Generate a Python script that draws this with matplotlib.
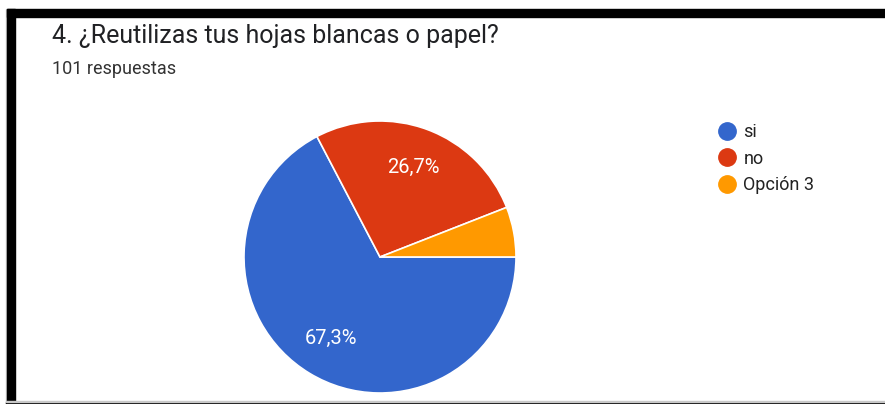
import matplotlib
matplotlib.use("Agg")
import matplotlib.pyplot as plt
from matplotlib.lines import Line2D
from matplotlib.patches import Rectangle

title = "4. ¿Reutilizas tus hojas blancas o papel?"
subtitle = "101 respuestas"
categories = ["si", "no", "Opción 3"]
counts = [68, 27, 6]
colors = ["#3366cc", "#dc3912", "#ff9900"]

plt.rcParams['font.family'] = ['Roboto', 'DejaVu Sans']

W, H = 885, 404
fig = plt.figure(figsize=(W / 100, H / 100), dpi=100)
fig.patch.set_facecolor("white")

# frame (screenshot border)
fig.patches.append(Rectangle((6 / W, 0), 1 / W, 1 - 9 / H, transform=fig.transFigure, color="#c8c8c8", zorder=0))
fig.patches.append(Rectangle((7 / W, 0), 8 / W, 1 - 9 / H, transform=fig.transFigure, color="black", zorder=1))
fig.patches.append(Rectangle((7 / W, 1 - 17 / H), 1 - 7 / W, 8 / H, transform=fig.transFigure, color="black", zorder=1))
fig.patches.append(Rectangle((6 / W, 0), 1 - 6 / W, 2 / H, transform=fig.transFigure, color="black", zorder=1))
fig.patches.append(Rectangle((6 / W, 2 / H), 1 - 6 / W, 1 / H, transform=fig.transFigure, color="#c8c8c8", zorder=1))

cx, cy, r = 380, 257, 136
ax = fig.add_axes([(cx - r) / W, (H - cy - r) / H, 2 * r / W, 2 * r / H])

def fmt(p):
    if p < 8:
        return ""
    return f"{p:.1f}".replace(".", ",") + "%"

wedges, texts, autotexts = ax.pie(
    counts, colors=colors, startangle=0, counterclock=False,
    autopct=fmt, pctdistance=0.7,
    wedgeprops=dict(edgecolor="white", linewidth=1.2),
    textprops=dict(color="white", fontsize=14.5),
)
ax.set_xlim(-1, 1)
ax.set_ylim(-1, 1)
ax.set_aspect("auto")
ax.axis("off")

fig.text(52 / W, 1 - 43 / H, title, fontsize=18, color="#202124", ha="left", va="baseline")
fig.text(52 / W, 1 - 74 / H, subtitle, fontsize=13, color="#333333", ha="left", va="baseline")

handles = [Line2D([], [], marker="o", linestyle="", markersize=12.5, markerfacecolor=c, markeredgecolor=c) for c in colors]
fig.legend(handles, categories, loc="upper left", bbox_to_anchor=(718 / W, 1 - 123 / H),
           frameon=False, fontsize=13, labelspacing=0.48, handletextpad=0.4,
           handlelength=1.0, borderpad=0, borderaxespad=0, labelcolor="#222222")

fig.savefig("out.png", dpi=100, facecolor="white")
